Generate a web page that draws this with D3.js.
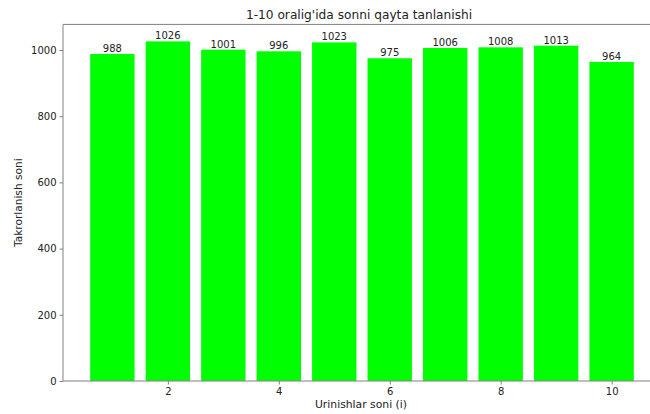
<!DOCTYPE html>
<html><head><meta charset="utf-8">
<script src="https://cdn.jsdelivr.net/npm/d3@7"></script>
<style>body{margin:0;background:#fff}svg{display:block}text{font-family:"DejaVu Sans",sans-serif}</style>
</head><body><svg id="c" width="650" height="414"></svg>
<script>
const categories = [1,2,3,4,5,6,7,8,9,10];
const values = [988,1026,1001,996,1023,975,1006,1008,1013,964];
const xTicks = [2,4,6,8,10];
const yTicks = [0,200,400,600,800,1000];
const title = "1-10 oralig'ida sonni qayta tanlanishi";
const xLabel = "Urinishlar soni (i)";
const yLabel = "Takrorlanish soni";

const svg = d3.select("#c");
const L = 63, R = 661, T = 24.4, B = 381;
const ymax = d3.max(values) * 1.05;
const x = d3.scaleLinear().domain([0.11, 10.89]).range([L, R]);
const y = d3.scaleLinear().domain([0, ymax]).range([B, T]);
const bw = 0.8;
const txt = "#222";
const spine = "#808080";

svg.append("g").selectAll("rect").data(categories).join("rect")
  .attr("x", (d) => x(d - bw/2))
  .attr("width", (d) => x(d + bw/2) - x(d - bw/2))
  .attr("y", (d, i) => y(values[i]))
  .attr("height", (d, i) => B - y(values[i]))
  .attr("fill", "#00ff00");

svg.append("g").selectAll("text").data(categories).join("text")
  .attr("x", d => x(d)).attr("y", (d, i) => y(values[i]) - 2)
  .attr("text-anchor", "middle").attr("font-size", "10px").attr("fill", txt)
  .text((d, i) => values[i]);

const xa = svg.append("g").attr("transform", `translate(0,${B})`)
  .call(d3.axisBottom(x).tickValues(xTicks).tickSize(3.5).tickPadding(3).tickFormat(d3.format("d")));
const ya = svg.append("g").attr("transform", `translate(${L},0)`)
  .call(d3.axisLeft(y).tickValues(yTicks).tickSize(3.5).tickPadding(3).tickFormat(d3.format("d")));
[xa, ya].forEach(a => {
  a.select(".domain").remove();
  a.selectAll(".tick line").attr("stroke", spine);
  a.selectAll(".tick text").attr("font-size", "10px").attr("fill", txt).attr("font-family", "DejaVu Sans");
});

// spines
svg.append("line").attr("x1", L).attr("x2", L).attr("y1", T).attr("y2", B).attr("stroke", spine).attr("stroke-width", 1);
svg.append("line").attr("x1", L).attr("x2", R).attr("y1", B).attr("y2", B).attr("stroke", spine).attr("stroke-width", 1);
svg.append("line").attr("x1", L).attr("x2", R).attr("y1", T).attr("y2", T).attr("stroke", spine).attr("stroke-width", 1);
svg.append("line").attr("x1", R).attr("x2", R).attr("y1", T).attr("y2", B).attr("stroke", spine).attr("stroke-width", 1);

svg.append("text").attr("x", 359).attr("y", 18.5).attr("text-anchor", "middle")
  .attr("font-size", "12.2px").attr("fill", txt).text(title);
svg.append("text").attr("x", 361).attr("y", 407.5).attr("text-anchor", "middle")
  .attr("font-size", "10.8px").attr("fill", txt).text(xLabel);
svg.append("text").attr("transform", `translate(22,${(T + B) / 2}) rotate(-90)`).attr("text-anchor", "middle")
  .attr("font-size", "10.6px").attr("fill", txt).text(yLabel);
</script></body></html>
